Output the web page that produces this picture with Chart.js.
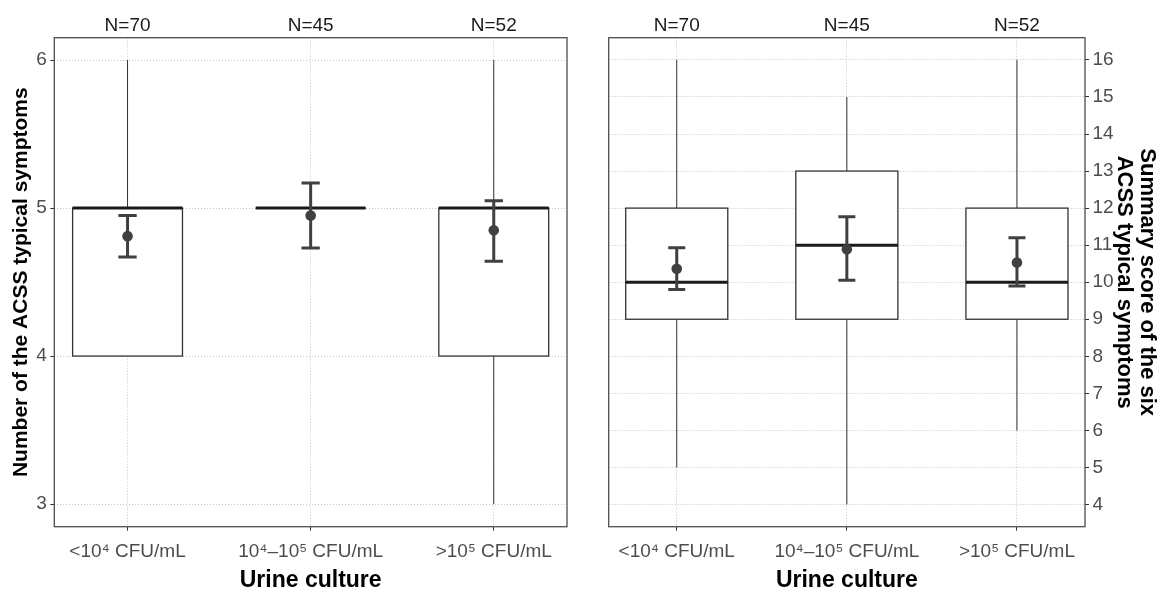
<!DOCTYPE html>
<html>
<head>
<meta charset="utf-8">
<script src="https://cdn.jsdelivr.net/npm/chart.js@4.4.0/dist/chart.umd.min.js"></script>
<style>
  html, body { margin: 0; padding: 0; background: #fff; }
  #wrap { position: relative; width: 1161px; height: 590px; }
  canvas { position: absolute; top: 0; }
</style>
</head>
<body>
<div id="wrap">
  <canvas id="countChart" width="585" height="590" style="left:0"></canvas>
  <canvas id="scoreChart" width="576" height="590" style="left:585px"></canvas>
</div>
<script>
// Categories shared by both panels
const categories = ["<10\u2074 CFU/mL", "10\u2074\u201310\u2075 CFU/mL", ">10\u2075 CFU/mL"];
const groupSizes = ["N=70", "N=45", "N=52"];

// Left panel: number of typical symptoms
const countMin = [4, 5, 3];
const countQ1 = [4, 5, 4];
const countMedian = [5, 5, 5];
const countQ3 = [5, 5, 5];
const countMax = [6, 5, 6];
const countMean = [4.81, 4.95, 4.85];
const countLow = [4.67, 4.73, 4.64];
const countHigh = [4.95, 5.17, 5.05];
const countTicks = [3, 4, 5, 6];

// Right panel: summary score
const scoreMin = [5, 4, 6];
const scoreQ1 = [9, 9, 9];
const scoreMedian = [10, 11, 10];
const scoreQ3 = [12, 13, 12];
const scoreMax = [16, 15, 16];
const scoreMean = [10.36, 10.89, 10.53];
const scoreLow = [9.8, 10.05, 9.9];
const scoreHigh = [10.93, 11.77, 11.2];
const scoreTicks = [4, 5, 6, 7, 8, 9, 10, 11, 12, 13, 14, 15, 16];

const FONT = '"Liberation Sans", Arial, sans-serif';
const positions = categories.map((_, i) => i + 1);

// boxes, whiskers, medians and error bars, all through the chart scales
const boxPlotPlugin = {
  id: "boxPlot",
  beforeDatasetsDraw(chart, args, opts) {
    const { ctx, chartArea, scales: { x, y } } = chart;
    const half = opts.boxWidth / 2;
    const cap = opts.capWidth / 2;
    ctx.save();
    ctx.beginPath();
    ctx.rect(chartArea.left, chartArea.top, chartArea.width, chartArea.height);
    ctx.clip();
    positions.forEach((pos, i) => {
      const xc = x.getPixelForValue(pos);
      const xl = x.getPixelForValue(pos - half);
      const xr = x.getPixelForValue(pos + half);
      const yMin = y.getPixelForValue(opts.min[i]);
      const yQ1 = y.getPixelForValue(opts.q1[i]);
      const yQ3 = y.getPixelForValue(opts.q3[i]);
      const yMax = y.getPixelForValue(opts.max[i]);
      const yMed = y.getPixelForValue(opts.median[i]);

      ctx.strokeStyle = "#333333";
      ctx.lineWidth = 1;
      ctx.beginPath();
      ctx.moveTo(xc, yMax); ctx.lineTo(xc, yQ3);
      ctx.moveTo(xc, yQ1); ctx.lineTo(xc, yMin);
      ctx.stroke();

      ctx.fillStyle = "#ffffff";
      ctx.fillRect(xl, yQ3, xr - xl, yQ1 - yQ3);
      ctx.lineWidth = 1.3;
      ctx.strokeRect(xl, yQ3, xr - xl, yQ1 - yQ3);

      ctx.strokeStyle = "#1a1a1a";
      ctx.lineWidth = 3;
      ctx.beginPath();
      ctx.moveTo(xl, yMed); ctx.lineTo(xr, yMed);
      ctx.stroke();

      // mean +/- interval
      const yLo = y.getPixelForValue(opts.low[i]);
      const yHi = y.getPixelForValue(opts.high[i]);
      const cl = x.getPixelForValue(pos - cap);
      const cr = x.getPixelForValue(pos + cap);
      ctx.strokeStyle = "#404040";
      ctx.lineWidth = 3;
      ctx.beginPath();
      ctx.moveTo(xc, yLo); ctx.lineTo(xc, yHi);
      ctx.moveTo(cl, yLo); ctx.lineTo(cr, yLo);
      ctx.moveTo(cl, yHi); ctx.lineTo(cr, yHi);
      ctx.stroke();
    });
    ctx.restore();
  },
  afterDraw(chart) {
    const { ctx, chartArea } = chart;
    ctx.save();
    ctx.strokeStyle = "#4d4d4d";
    ctx.lineWidth = 1.3;
    ctx.strokeRect(chartArea.left, chartArea.top, chartArea.width, chartArea.height);
    ctx.restore();
  },
};

function setTicks(values) {
  return (scale) => { scale.ticks = values.map((v) => ({ value: v })); };
}

function buildChart(canvasId, cfg) {
  const yAxis = {
    position: cfg.yPosition,
    min: cfg.yMin,
    max: cfg.yMax,
    afterBuildTicks: setTicks(cfg.yTicks),
    afterFit: (scale) => { scale.width = cfg.yWidth; },
    grid: { color: "#c4c4c4", lineWidth: 1, tickLength: 4, tickColor: "#333333", tickWidth: 1 },
    border: { display: false, dash: [1, 2] },
    ticks: { color: "#4d4d4d", font: { family: FONT, size: 19 }, padding: 3.5 },
    title: {
      display: true,
      text: cfg.yTitle,
      color: "#000",
      font: { family: FONT, size: cfg.yTitleSize, weight: "bold", lineHeight: 1.03 },
      padding: { top: cfg.yTitlePad, bottom: 0 },
    },
  };

  return new Chart(document.getElementById(canvasId), {
    type: "scatter",
    data: {
      datasets: [{
        data: positions.map((p, i) => ({ x: p, y: cfg.mean[i] })),
        pointRadius: 5.3,
        pointBackgroundColor: "#404040",
        pointBorderWidth: 0,
      }],
    },
    options: {
      responsive: false,
      animation: false,
      layout: { padding: cfg.padding },
      plugins: {
        legend: { display: false },
        tooltip: { enabled: false },
        boxPlot: {
          boxWidth: 0.6,
          capWidth: 0.1,
          min: cfg.min, q1: cfg.q1, median: cfg.median, q3: cfg.q3, max: cfg.max,
          low: cfg.low, high: cfg.high,
        },
      },
      scales: {
        x: {
          type: "linear",
          position: "bottom",
          min: 0.6,
          max: 3.4,
          afterBuildTicks: setTicks(positions),
          afterFit: (scale) => { scale.height = 63.3; },
          grid: { color: "#c4c4c4", lineWidth: 1, tickLength: 4, tickColor: "#333333", tickWidth: 1 },
          border: { display: false, dash: [1, 2] },
          ticks: {
            color: "#4d4d4d",
            font: { family: FONT, size: 19 },
            padding: 9.5,
            autoSkip: false,
            maxRotation: 0,
            callback: (v) => categories[Math.round(v) - 1],
          },
          title: {
            display: true,
            text: "Urine culture",
            color: "#000",
            font: { family: FONT, size: 23, weight: "bold", lineHeight: 0.85 },
            padding: { top: 0, bottom: 0 },
          },
        },
        top: {
          type: "linear",
          position: "top",
          min: 0.6,
          max: 3.4,
          afterBuildTicks: setTicks(positions),
          afterFit: (scale) => { scale.height = 37.7; },
          grid: { display: false, drawTicks: false },
          border: { display: false },
          ticks: {
            color: "#1a1a1a",
            font: { family: FONT, size: 19 },
            padding: 0.5,
            autoSkip: false,
            maxRotation: 0,
            callback: (v) => groupSizes[Math.round(v) - 1],
          },
        },
        y: yAxis,
      },
    },
    plugins: [boxPlotPlugin],
  });
}

buildChart("countChart", {
  yPosition: "left",
  yMin: 2.847, yMax: 6.151,
  yTicks: countTicks,
  yWidth: 54.3,
  yTitle: "Number of the ACSS typical symptoms",
  yTitleSize: 21,
  yTitlePad: 10,
  padding: { left: 0, right: 18, top: 0, bottom: 0 },
  min: countMin, q1: countQ1, median: countMedian, q3: countQ3, max: countMax,
  mean: countMean, low: countLow, high: countHigh,
});

buildChart("scoreChart", {
  yPosition: "right",
  yMin: 3.40, yMax: 16.60,
  yTicks: scoreTicks,
  yWidth: 76,
  yTitle: ["Summary score of the six", "ACSS typical symptoms"],
  yTitleSize: 22,
  yTitlePad: 3,
  padding: { left: 23.7, right: 0, top: 0, bottom: 0 },
  min: scoreMin, q1: scoreQ1, median: scoreMedian, q3: scoreQ3, max: scoreMax,
  mean: scoreMean, low: scoreLow, high: scoreHigh,
});
</script>
</body>
</html>
